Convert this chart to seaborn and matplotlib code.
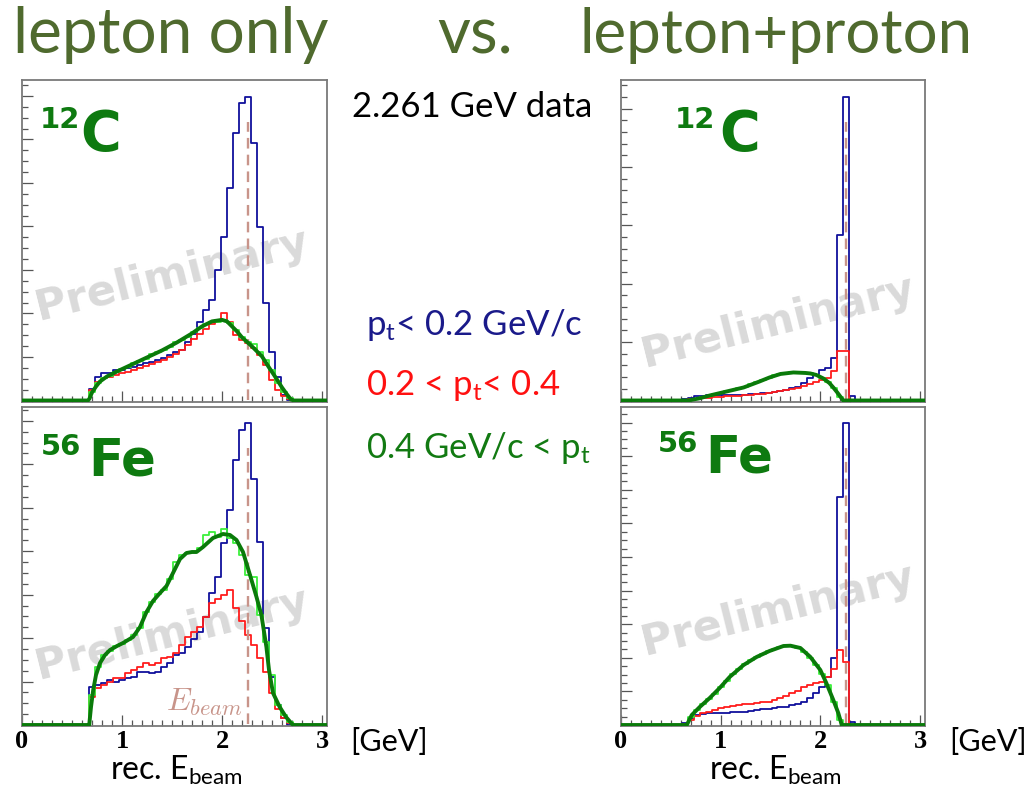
import numpy as np
import pandas as pd
import matplotlib
matplotlib.use("Agg")
import matplotlib.pyplot as plt
from matplotlib.ticker import MultipleLocator, AutoMinorLocator
import seaborn as sns

sns.set_theme(style="ticks")
plt.rcParams["font.family"] = ["Lato", "DejaVu Sans"]
plt.rcParams["mathtext.fontset"] = "custom"
plt.rcParams["mathtext.rm"] = "Lato"
plt.rcParams["mathtext.it"] = "Lato:italic"
plt.rcParams["mathtext.bf"] = "Lato:bold"

# ---------------------------------------------------------------- data
beam_energy = 2.261                      # GeV, dashed reference line
bin_width = 0.06
bin_edges = [round(0.01 + bin_width * i, 2) for i in range(51)]   # 0.01 ... 3.01 GeV

# 12C, lepton only  (first filled bin starts at 0.67 GeV)
c12_lep_start = 0.67
c12_lep_blue = [11.7, 23, 27, 27, 30, 30, 32, 33, 35, 37, 38, 40, 42, 45, 48, 50, 58,
                66, 78, 90, 100, 130, 163, 212, 267, 297, 303, 257, 173, 97, 48, 23, 5]
c12_lep_red = [10, 18, 22, 23, 25, 27, 28, 30, 32, 34, 36, 38, 40, 43, 46, 50, 55, 61,
               66, 71, 76, 80, 87, 78, 65, 60, 57, 52, 45, 35, 20, 10, 4, 1]
c12_lep_green = [8, 17, 22, 24, 28, 31, 33, 37, 39, 41, 46, 48, 50, 53, 58, 60, 63, 68,
                 72, 76, 78, 78, 80, 77, 70, 63, 58, 56, 48, 40, 30, 17, 8, 2]
c12_lep_fit_e = [0.0, 0.66, 0.675, 0.70, 0.74, 0.78, 0.85, 0.95, 1.10, 1.25, 1.40, 1.55,
                 1.70, 1.80, 1.90, 2.00, 2.05, 2.10, 2.15, 2.20, 2.30, 2.40, 2.47, 2.53,
                 2.60, 2.65, 2.69, 2.72, 3.05]
c12_lep_fit_y = [0, 0, 2, 8, 14, 19, 24, 29, 36, 43, 50, 58, 67, 74, 79, 80.5, 79, 74,
                 69, 63, 54, 44, 33, 24, 13, 6, 1, 0, 0]

# 56Fe, lepton only
fe56_lep_start = 0.67
fe56_lep_blue = [38, 40, 42, 45, 43, 45, 47, 48, 53, 53, 52, 53, 58, 62, 70, 72, 78, 86,
                 93, 108, 132, 148, 182, 215, 265, 295, 302, 246, 183, 97, 48, 20, 7]
fe56_lep_red = [28, 37, 40, 43, 47, 47, 52, 55, 58, 62, 60, 62, 67, 68, 72, 80, 88, 93,
                98, 108, 122, 126, 130, 135, 117, 104, 90, 80, 67, 53, 32, 16, 7, 2]
fe56_lep_green = [30, 58, 70, 74, 79, 81, 85, 90, 97, 113, 123, 131, 135, 146, 163, 170,
                  172, 173, 177, 190, 193, 188, 196, 187, 182, 170, 150, 148, 110, 83,
                  50, 20, 10, 3]
fe56_lep_fit_e = [0.0, 0.66, 0.672, 0.69, 0.712, 0.74, 0.78, 0.83, 0.88, 0.95, 1.01, 1.11,
                  1.18, 1.245, 1.31, 1.38, 1.445, 1.51, 1.58, 1.645, 1.70, 1.745, 1.81,
                  1.91, 2.01, 2.08, 2.145, 2.21, 2.28, 2.345, 2.394, 2.444, 2.47, 2.51,
                  2.577, 2.64, 2.70, 2.72, 3.05]
fe56_lep_fit_y = [0, 0, 0, 18, 35, 50, 62, 70, 75, 79, 82, 88, 98, 113, 124, 132, 139,
                  152, 166, 172, 173, 173, 178, 187, 191, 190, 185, 173, 150, 128, 110,
                  78, 55, 32, 18, 8, 1, 0, 0]

# 12C, lepton + proton  (first filled bin starts at 0.61 GeV)
c12_lp_start = 0.61
c12_lp_blue = [1, 2.7, 4.3, 4.3, 5, 5, 5, 5.7, 5.7, 5.7, 5.7, 6, 6.7, 7, 7.7, 8, 9, 10,
               12, 13, 17, 22, 25, 30, 32, 42, 165, 303, 4.3]
c12_lp_red = [0.5, 1, 1.7, 2.3, 2.7, 3, 3.3, 4, 4, 4.3, 5, 5.7, 6, 6.7, 7.3, 8, 9, 10.5,
              11.5, 12.5, 14, 16.5, 18.5, 20, 22, 29, 49, 49]
c12_lp_green = [0, 0.5, 1.5, 3, 4.5, 6, 7.5, 9, 10, 12, 13.5, 16, 18, 20, 22.5, 25, 26.5,
                27.5, 28, 28, 27.5, 27, 25, 22, 18, 12, 3]
c12_lp_fit_e = [0.0, 0.67, 0.78, 0.89, 1.06, 1.23, 1.39, 1.49, 1.60, 1.73, 1.85, 1.90,
                1.96, 2.03, 2.09, 2.13, 2.17, 2.20, 2.23, 3.05]
c12_lp_fit_y = [0, 0, 2, 5, 9, 13, 19, 23, 26.5, 28, 27.5, 27, 25.5, 22, 17.5, 13, 8, 4,
                0, 0]

# 56Fe, lepton + proton
fe56_lp_start = 0.61
fe56_lp_blue = [1.7, 6.7, 10, 11, 11.7, 11.7, 12, 12, 12.7, 13, 13, 14, 15, 16, 16, 17,
                18, 18, 20, 21, 23, 27, 32, 38, 48, 67, 228, 302, 3.3]
fe56_lp_red = [1, 5, 9, 12, 13, 15, 17, 18, 19, 20, 21, 21, 22, 23, 23, 25, 27, 29, 32,
               34, 38, 40, 42, 43, 48, 56, 75, 63]
fe56_lp_green = [0, 8, 15, 21, 26, 31, 38, 44, 51, 56, 61, 65, 68, 71, 74, 76, 78, 79,
                 79, 77, 73, 67, 60, 51, 40, 23, 5]
fe56_lp_fit_e = [0.0, 0.66, 0.71, 0.79, 0.89, 0.99, 1.09, 1.23, 1.36, 1.49, 1.63, 1.70,
                 1.80, 1.90, 2.00, 2.06, 2.13, 2.18, 2.215, 3.05]
fe56_lp_fit_y = [0, 0, 10, 18, 27, 37, 48, 60, 68, 74, 79, 79.3, 77, 68, 55, 42, 25, 12,
                 0, 0]

pt_labels = ["p$_\\mathrm{t}$< 0.2 GeV/c", "0.2 < p$_\\mathrm{t}$< 0.4",
             "0.4 GeV/c < p$_\\mathrm{t}$"]
x_tick_labels = ["0", "1", "2", "3"]

# ---------------------------------------------------------------- styling
BLUE, RED, LIGHT_GREEN, FIT_GREEN = "#10109c", "#ff1c1c", "#3cf03c", "#0a7a0a"
LABEL_GREEN = "#0e7a10"
TITLE_OLIVE = "#4f6a2e"
BEAM_COLOR = "#c8948a"

W, H = 1027, 787
fig = plt.figure(figsize=(W / 100, H / 100), dpi=100)
fig.patch.set_facecolor("white")


def px_axes(x0, y0, x1, y1):
    return fig.add_axes([x0 / W, 1 - y1 / H, (x1 - x0) / W, (y1 - y0) / H])


def ftext(x, y, s, **kw):
    kw.setdefault("va", "baseline")
    return fig.text(x / W, 1 - y / H, s, **kw)


def binned_frame(start, values):
    edges = np.asarray(bin_edges)
    counts = np.zeros(len(edges) - 1)
    i0 = int(round((start - edges[0]) / bin_width))
    counts[i0:i0 + len(values)] = values
    centers = 0.5 * (edges[:-1] + edges[1:])
    return pd.DataFrame({"energy": centers, "counts": counts})


panels = [
    dict(rect=(22, 80, 327, 402), ylim=(-1.5, 320), major=43.45, sub=4, bottom=False,
         start=c12_lep_start, blue=c12_lep_blue, red=c12_lep_red, green=c12_lep_green,
         fit_e=c12_lep_fit_e, fit_y=c12_lep_fit_y, prelim=(0.49, 0.395)),
    dict(rect=(22, 407, 327, 726), ylim=(-1, 318), major=43.45, sub=4, bottom=True,
         start=fe56_lep_start, blue=fe56_lep_blue, red=fe56_lep_red, green=fe56_lep_green,
         fit_e=fe56_lep_fit_e, fit_y=fe56_lep_fit_y, prelim=(0.49, 0.29)),
    dict(rect=(621, 80, 925, 402), ylim=(-1.5, 320), major=58.3, sub=5, bottom=False,
         start=c12_lp_start, blue=c12_lp_blue, red=c12_lp_red, green=c12_lp_green,
         fit_e=c12_lp_fit_e, fit_y=c12_lp_fit_y, prelim=(0.516, 0.25)),
    dict(rect=(621, 407, 925, 726), ylim=(-1, 318), major=33.6, sub=4, bottom=True,
         start=fe56_lp_start, blue=fe56_lp_blue, red=fe56_lp_red, green=fe56_lp_green,
         fit_e=fe56_lp_fit_e, fit_y=fe56_lp_fit_y, prelim=(0.516, 0.364)),
]

for p in panels:
    ax = px_axes(*p["rect"])
    ax.set_facecolor("white")

    ax.text(*p["prelim"], "Preliminary", transform=ax.transAxes, rotation=14,
            rotation_mode="anchor", ha="center", va="center", fontsize=31,
            fontweight="bold", family="DejaVu Sans", color="#dadada", zorder=0.5)

    ax.axvline(beam_energy, ymin=0.005, ymax=0.87, color=BEAM_COLOR, lw=1.7,
               ls=(0, (4.5, 2.6)), zorder=2.6)

    for key, col, lw, z in (("blue", BLUE, 1.3, 2.0), ("red", RED, 1.3, 2.1),
                            ("green", LIGHT_GREEN, 1.3, 3.0)):
        sns.histplot(data=binned_frame(p["start"], p[key]), x="energy", weights="counts",
                     bins=bin_edges, element="step", fill=False, color=col, lw=lw,
                     ax=ax, zorder=z)

    fit = pd.DataFrame({"energy": p["fit_e"], "counts": p["fit_y"]})
    sns.lineplot(data=fit, x="energy", y="counts", ax=ax, color=FIT_GREEN, lw=2.8,
                 estimator=None, sort=False, zorder=4)

    ax.set_xlim(0, 3.05)
    ax.set_ylim(*p["ylim"])
    ax.set_xlabel("")
    ax.set_ylabel("")

    ax.xaxis.set_major_locator(MultipleLocator(1))
    ax.xaxis.set_minor_locator(MultipleLocator(0.1))
    ax.yaxis.set_major_locator(MultipleLocator(p["major"]))
    ax.yaxis.set_minor_locator(AutoMinorLocator(p["sub"]))
    ax.tick_params(which="both", direction="in", top=False, right=False,
                   color="#555555", width=0.9)
    ax.tick_params(which="major", length=8)
    ax.tick_params(which="minor", length=4.5)
    ax.tick_params(axis="y", labelleft=False)
    if p["bottom"]:
        ax.set_xticks([0, 1, 2, 3])
        ax.set_xticklabels(x_tick_labels, family="Liberation Serif", fontweight="bold",
                           fontsize=19, color="black")
        ax.tick_params(axis="x", pad=3)
    else:
        ax.tick_params(axis="x", labelbottom=False)

    for s in ax.spines.values():
        s.set_color("#7a7a7a")
        s.set_linewidth(1.3)
        s.set_visible(True)

# ---------------------------------------------------------------- texts
ftext(13, 53, "lepton only", fontsize=46, color=TITLE_OLIVE)
ftext(437, 53, "vs.", fontsize=46, color=TITLE_OLIVE)
ftext(580, 53, "lepton+proton", fontsize=44.5, color=TITLE_OLIVE)

ftext(352, 117, "2.261 GeV data", fontsize=25, color="black")
ftext(366, 335, pt_labels[0], fontsize=25, color="#1a1a8a")
ftext(366, 395, pt_labels[1], fontsize=25, color="#ff1010")
ftext(366, 458, pt_labels[2], fontsize=25, color="#127a12")

# isotope tags
for x_num, x_sym, y_num, y_sym, num, sym in (
        (40, 80, 128, 150, "12", "C"),
        (675, 719, 128, 150, "12", "C"),
        (41, 88, 455, 475, "56", "Fe"),
        (658, 705, 452, 472, "56", "Fe")):
    ftext(x_num, y_num, num, fontsize=21, fontweight="bold", family="DejaVu Sans",
          color=LABEL_GREEN)
    ftext(x_sym, y_sym, sym, fontsize=40 if sym == "C" else 37, fontweight="bold",
          family="DejaVu Sans", color=LABEL_GREEN)

# beam marker label
ftext(166, 711, r"$E_{beam}$", fontsize=23, color=BEAM_COLOR, math_fontfamily="cm")

# axis units and titles
for x_unit, x_title in ((350, 110), (949, 709)):
    ftext(x_unit, 751, "[GeV]", fontsize=22, color="black")
    ftext(x_title, 780, r"rec. E$_\mathrm{beam}$", fontsize=23, color="black")

fig.savefig("out.png", dpi=100, facecolor="white")
